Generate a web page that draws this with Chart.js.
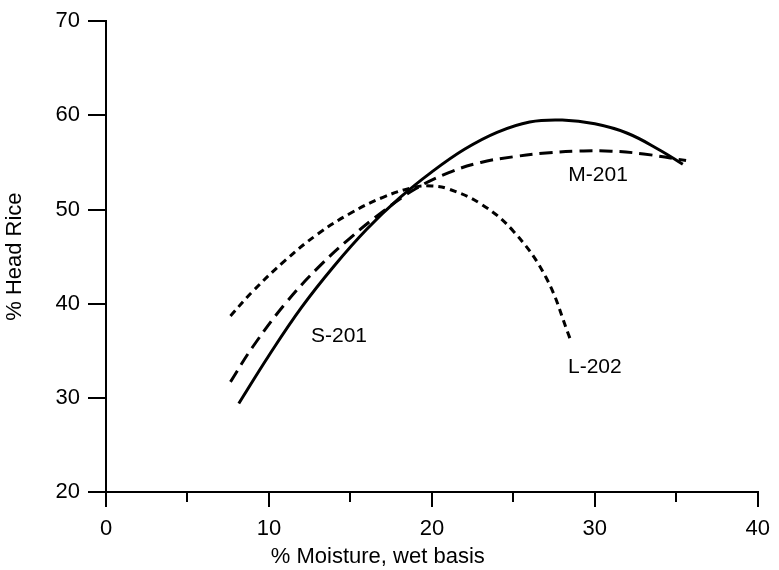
<!DOCTYPE html>
<html>
<head>
<meta charset="utf-8">
<script src="https://cdn.jsdelivr.net/npm/chart.js@4.4.1/dist/chart.umd.min.js"></script>
<style>
  html, body { margin: 0; padding: 0; background: #fff; }
  #wrap { width: 779px; height: 570px; position: relative; }
</style>
</head>
<body>
<div id="wrap"><canvas id="c" width="779" height="570"></canvas></div>
<script>
// ---- data ----
const s201Moisture = [8.15, 10, 12, 14, 16, 18, 20, 22, 24, 26, 28, 30, 32, 34, 35.4];
const s201HeadRice = [29.4, 34.5, 39.6, 44.0, 47.9, 51.2, 54.0, 56.4, 58.2, 59.3, 59.5, 59.1, 58.1, 56.3, 54.8];

const m201Moisture = [7.64, 9, 11, 13, 15, 17, 19, 21, 23, 25, 27, 29, 31, 33, 35.6];
const m201HeadRice = [31.7, 35.4, 40.0, 43.8, 47.0, 49.8, 52.2, 53.9, 55.0, 55.6, 56.0, 56.2, 56.2, 55.9, 55.2];

const l202Moisture = [7.64, 9, 11, 13, 15, 17, 19, 20, 21, 23, 25, 27, 28.5];
const l202HeadRice = [38.7, 41.3, 44.6, 47.4, 49.6, 51.3, 52.4, 52.5, 52.2, 50.6, 47.7, 42.8, 36.2];

const xTicks = [0, 10, 20, 30, 40];
const xMinorTicks = [5, 15, 25, 35];
const yTicks = [20, 30, 40, 50, 60, 70];

const curveLabels = ['S-201', 'M-201', 'L-202'];
const curveLabelX = [14.3, 30.2, 30.0];
const curveLabelY = [36.5, 53.6, 33.3];

const xTitle = '% Moisture, wet basis';
const yTitle = '% Head Rice';

// ---- helpers ----
const FONT = '"Liberation Sans", Arial, Helvetica, sans-serif';
function pts(xs, ys) { return xs.map((x, i) => ({ x: x, y: ys[i] })); }

const extras = {
  id: 'extras',
  afterDraw(chart) {
    const ctx = chart.ctx;
    const xs = chart.scales.x, ys = chart.scales.y;
    ctx.save();
    // minor x ticks
    ctx.strokeStyle = '#000';
    ctx.lineWidth = 2;
    xMinorTicks.forEach(v => {
      const px = Math.round(xs.getPixelForValue(v));
      ctx.beginPath();
      ctx.moveTo(px, ys.getPixelForValue(ys.min));
      ctx.lineTo(px, ys.getPixelForValue(ys.min) + 10);
      ctx.stroke();
    });
    // curve labels
    ctx.fillStyle = '#000';
    ctx.font = '21px ' + FONT;
    ctx.textAlign = 'center';
    ctx.textBaseline = 'middle';
    curveLabels.forEach((t, i) => {
      ctx.fillText(t, xs.getPixelForValue(curveLabelX[i]), ys.getPixelForValue(curveLabelY[i]));
    });
    // x axis title
    ctx.font = '22px ' + FONT;
    const area = chart.chartArea;
    ctx.fillText(xTitle, area.left + (area.right - area.left) * 0.417, xs.bottom - 13);
    ctx.restore();
  }
};

const baseLine = { borderColor: '#000', borderWidth: 3, pointRadius: 0, showLine: true,
  tension: 0.4, borderCapStyle: 'butt', fill: false };

new Chart(document.getElementById('c'), {
  type: 'scatter',
  data: {
    datasets: [
      Object.assign({ label: 'S-201', data: pts(s201Moisture, s201HeadRice) }, baseLine),
      Object.assign({ label: 'M-201', data: pts(m201Moisture, m201HeadRice), borderDash: [13, 7] }, baseLine),
      Object.assign({ label: 'L-202', data: pts(l202Moisture, l202HeadRice), borderDash: [7, 5] }, baseLine)
    ]
  },
  options: {
    responsive: false,
    animation: false,
    events: [],
    layout: { padding: { top: 19, right: 15, left: 0, bottom: 0 } },
    plugins: { legend: { display: false }, tooltip: { enabled: false } },
    scales: {
      x: {
        type: 'linear', min: 0, max: 40,
        afterBuildTicks: s => { s.ticks = xTicks.map(v => ({ value: v })); },
        afterFit: s => { s.height = 78; },
        grid: { drawOnChartArea: false, drawTicks: true, tickLength: 15, color: '#000', lineWidth: 2 },
        border: { display: true, color: '#000', width: 2 },
        ticks: { color: '#000', font: { family: FONT, size: 22 }, padding: 9, maxRotation: 0 }
      },
      y: {
        type: 'linear', min: 20, max: 70,
        afterBuildTicks: s => { s.ticks = yTicks.map(v => ({ value: v })); },
        afterFit: s => { s.width = 106; },
        grid: { drawOnChartArea: false, drawTicks: true, tickLength: 18, color: '#000', lineWidth: 2 },
        border: { display: true, color: '#000', width: 2 },
        ticks: { color: '#000', font: { family: FONT, size: 22 }, padding: 8 },
        title: { display: true, text: yTitle, color: '#000', font: { family: FONT, size: 22 }, padding: { top: 2, bottom: 0 } }
      }
    }
  },
  plugins: [extras]
});
</script>
</body>
</html>
